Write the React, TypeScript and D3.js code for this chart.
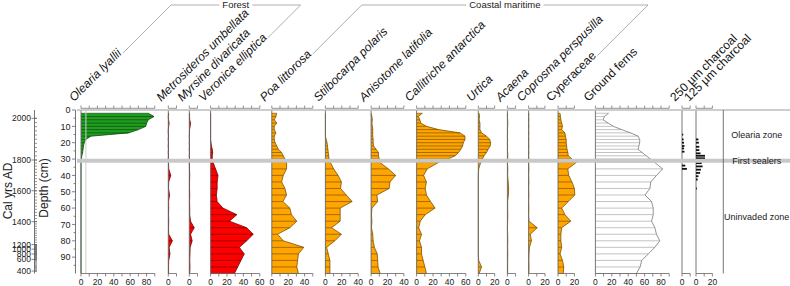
import React from 'react';
import * as d3 from 'd3';

// ---------------- data ----------------
const sampleDepths = [2, 4, 6, 8, 10, 12, 14, 16, 18, 20, 22, 24, 26, 28, 30, 32, 36, 40, 44, 48, 52, 56, 60, 64, 68, 72, 76, 80, 84, 88, 92, 96, 100];

const oleariaLyallii = [82, 89, 82, 80, 79, 70, 58, 12, 6, 4, 3, 2.5, 2, 1, 0.5, 0, 0, 0, 0, 0, 0, 0, 0, 0, 0, 0, 0, 0, 0, 0, 0, 0, 0];
const metrosiderosUmbellata = [0.5, 0, 0.3, 1, 0.5, 0, 0, 0.3, 0, 0.3, 0, 0.3, 0, 0.3, 0, 0.3, 0.5, 3, 0.5, 0.3, 1.5, 0.3, 0.5, 0.3, 0.5, 0.3, 0.5, 5, 1, 2, 0.5, 0.3, 0.3];
const myrsineDivaricata = [0.3, 0.3, 0.5, 1.5, 1, 0.3, 0.3, 0, 0.3, 0, 0.3, 0, 0.3, 0, 0.3, 0, 0.3, 0.5, 0.3, 0.3, 0.5, 0.3, 0.5, 0.5, 1.5, 6, 1.5, 3.5, 1, 0.8, 0.5, 0.8, 0.5];
const veronicaElliptica = [0, 0, 0, 0, 0, 0, 0, 0, 0, 0.5, 1, 2, 2.5, 2, 2, 3, 6, 9, 8, 8, 7, 8, 15, 32, 23, 44, 52, 44, 35, 41, 37, 33, 29];
const poaLittorosa = [6, 5, 3, 6, 3, 3, 5, 3, 3, 4, 6, 8, 12, 14, 16, 18, 18, 14, 12, 16, 18, 13.5, 22, 24, 30.5, 22, 7, 14, 39, 32.5, 31.5, 30.5, 32.5];
const stilbocarpaPolaris = [0, 0, 0, 0, 0, 0, 0, 0, 1, 2, 2.5, 3, 3.5, 4, 4.5, 6, 10, 15.5, 19.5, 18.5, 25.5, 32.5, 18, 18, 18, 7.5, 19.5, 11.5, 1.5, 3.5, 5.5, 5.5, 5.5];
const anisotomeLatifolia = [0, 1, 1.5, 1, 1.5, 2, 2, 2, 2.5, 2.5, 3, 6, 9, 9, 10, 10.5, 21, 30, 23, 22, 7, 8, 1, 0.5, 1, 0.5, 2, 2.5, 4, 7.5, 8, 8.5, 11];
const callitricheAntarctica = [7, 2, 4, 5, 12, 27, 53, 59, 59, 57, 56, 54, 51, 47, 38, 27, 13, 8.5, 12, 10.5, 12, 17, 22.5, 10.5, 4.5, 2.5, 6, 3.5, 6, 6, 8, 10, 12];
const urtica = [1, 1.5, 1, 2, 2, 2, 4, 10, 14, 15, 14.5, 12, 10, 7, 5, 3, 0.5, 0, 0, 0, 0, 0, 0, 0, 0, 0, 0, 0, 0, 0, 0.5, 4, 1];
const acaena = [0.3, 0, 0.3, 0.5, 0.3, 0, 0.3, 0, 0.3, 0, 0.3, 0, 0.3, 0.5, 0.3, 0, 0.5, 0.3, 1, 1.5, 1.2, 0.3, 0.3, 0.5, 0.3, 0, 0.3, 0.5, 0.3, 0.5, 0.3, 0.3, 0.3];
const coprosmaPerspusilla = [0.3, 0, 0.3, 0, 0.3, 0, 0.3, 0, 0.3, 0, 0.3, 0, 0.3, 0, 0.3, 0, 0.3, 0, 0.3, 0, 0.3, 0, 0.3, 0, 0.5, 10.5, 2, 3.5, 1, 0.5, 0.3, 0.5, 0.3];
const cyperaceae = [2.5, 3, 3.5, 4.5, 5.5, 4.5, 8.5, 9, 10, 10, 10.5, 11, 12, 12.5, 17, 22.5, 12, 13, 17, 20, 20.5, 12.5, 4.5, 8.5, 15.5, 4.5, 3.5, 3.5, 4.5, 2.5, 5.5, 7, 6.5];
const groundFerns = [16, 11, 9.5, 15.5, 22, 32, 43, 52, 54, 54, 53, 52, 57, 62, 67, 72, 82, 74.5, 67.5, 66.5, 60.5, 68.5, 70.5, 70.5, 68.5, 72.5, 74.5, 78.5, 72.5, 64.5, 56.5, 54.5, 50];

const taxaNames = ['Olearia lyallii', 'Metrosideros umbellata', 'Myrsine divaricata', 'Veronica elliptica', 'Poa littorosa', 'Stilbocarpa polaris', 'Anisotome latifolia', 'Callitriche antarctica', 'Urtica', 'Acaena', 'Coprosma perspusilla', 'Cyperaceae', 'Ground ferns'];
const taxaValues = [oleariaLyallii, metrosiderosUmbellata, myrsineDivaricata, veronicaElliptica, poaLittorosa, stilbocarpaPolaris, anisotomeLatifolia, callitricheAntarctica, urtica, acaena, coprosmaPerspusilla, cyperaceae, groundFerns];
const taxaMax = [90, 10, 10, 60, 50, 40, 40, 60, 20, 10, 20, 20, 90];
const taxaItalic = [true, true, true, true, true, true, true, true, true, true, true, false, false];

const charcoal250Depths = [15, 18, 20, 22, 23.5, 25.5, 34, 36];
const charcoal250Values = [1.5, 2, 2.5, 3, 2.5, 3, 4, 6];
const charcoal125Depths = [18, 20, 22.5, 24.5, 26.5, 28, 29.5, 31, 32.5, 34.5, 36.5, 38.5, 40.5, 42.5, 48];
const charcoal125Values = [3, 3.5, 4, 4, 5.5, 11, 11, 9, 7, 8, 6, 5, 3, 2, 1];
const charcoalNames = ['250 µm charcoal', '125 µm charcoal'];
const charcoalMax = [10, 20];

const groupNames = ['Forest', 'Coastal maritime'];
const groupFirst = [0, 4];
const groupLast = [3, 11];

const zoneNames = ['Olearia zone', 'Uninvaded zone'];
const zoneTop = [0, 31];
const zoneBottom = [31, 100];
const eventName = 'First sealers';
const eventDepth = 31;

const ageModelAges = [2012, 2000, 1800, 1600, 1400, 1200, 1000, 800, 600, 400, 350];
const ageModelDepths = [0, 5.1, 30.6, 49.4, 68.3, 82.3, 85.1, 88.1, 91.4, 98.5, 100];
const ageMinorStep = 20;
const ageMajorStep = 200;
const oleariaGuide = 6;

// ---------------- layout ----------------
const W = 790;
const H = 286;
const K = 0.82; // px per percent
const FONT = '"Liberation Sans", Arial, Helvetica, sans-serif';
const panelLeft = [81, 168.3, 189.3, 210.6, 271.8, 325.4, 371.1, 416.6, 478.3, 507.4, 528.6, 558, 595.4, 682, 696];
const TOP_Y = 108.3;
const BOT_Y = 273.5;
const LABEL_Y = 102;
const HEADER_Y = 5;
const ZONE_X = 723.3;

const depth = d3.scaleLinear().domain([0, 100]).range([110, BOT_Y]);
const ageToDepth = d3.scaleLinear().domain(ageModelAges).range(ageModelDepths);

const styles: Record<string, { fill: string; stroke: string; line: string }> = {
  green: { fill: '#1f9e1f', stroke: '#0d4a0d', line: '#0b3a0b' },
  red: { fill: '#ff0000', stroke: '#7a0000', line: '#5c0000' },
  orange: { fill: '#ffa500', stroke: '#7f5200', line: '#6b4500' },
  outline: { fill: '#ffffff', stroke: '#777777', line: '#9a9a9a' },
};
const taxaStyle = ['green', 'red', 'red', 'red', 'orange', 'orange', 'orange', 'orange', 'orange', 'orange', 'orange', 'orange', 'outline'];

let ctx: CanvasRenderingContext2D | null = null;
function textWidth(t: string, font: string) {
  if (!ctx && typeof document !== 'undefined') ctx = document.createElement('canvas').getContext('2d');
  if (!ctx) return t.length * 6;
  ctx.font = font;
  return ctx.measureText(t).width;
}

const LABEL_SIZE = 12;
const C = Math.SQRT1_2;

function labelStart(i: number) {
  return [panelLeft[i] - 7, LABEL_Y];
}

function BottomAxis({ x, max }: { x: d3.ScaleLinear<number, number>; max: number }) {
  const ticks = d3.range(0, max + 0.001, 10);
  return (
    <g>
      <line x1={x(0)} x2={x(max)} y1={BOT_Y} y2={BOT_Y} stroke="#666" strokeWidth={0.8} />
      {ticks.map((t) => (
        <line key={t} x1={x(t)} x2={x(t)} y1={BOT_Y} y2={BOT_Y + 3} stroke="#666" strokeWidth={0.8} />
      ))}
      {ticks
        .filter((t) => t % 20 === 0)
        .map((t) => (
          <text key={'l' + t} x={x(t)} y={BOT_Y + 11.5} fontSize={8.5} textAnchor="middle" fill="#222">
            {t}
          </text>
        ))}
    </g>
  );
}

function TopAxis({ x, max }: { x: d3.ScaleLinear<number, number>; max: number }) {
  const ticks = d3.range(0, max + 0.001, 10);
  return (
    <g>
      <line x1={x(0)} x2={x(max)} y1={TOP_Y} y2={TOP_Y} stroke="#777" strokeWidth={0.8} />
      {ticks.map((t) => (
        <line key={t} x1={x(t)} x2={x(t)} y1={TOP_Y} y2={TOP_Y - 2.8} stroke="#777" strokeWidth={0.8} />
      ))}
    </g>
  );
}

export default function App() {
  const labelFont = (italic: boolean) => `${italic ? 'italic ' : ''}${LABEL_SIZE}px ${FONT}`;

  const allNames = [...taxaNames, ...charcoalNames];
  const allItalic = [...taxaItalic, false, false];

  const labelEnd = (i: number) => {
    const [sx, sy] = labelStart(i);
    const w = textWidth(allNames[i], labelFont(allItalic[i]));
    return [sx + (w + 1) * C, sy - (w + 1) * C];
  };

  const panels = taxaNames.map((name, i) => {
    const max = taxaMax[i];
    const x = d3.scaleLinear().domain([0, max]).range([panelLeft[i], panelLeft[i] + max * K]);
    const vals = taxaValues[i];
    const st = styles[taxaStyle[i]];
    const area = d3
      .area<number>()
      .x0(x(0))
      .x1((v) => x(v))
      .y((_, j) => depth(sampleDepths[j]));
    return (
      <g key={name}>
        <path d={area(vals) || ''} fill={st.fill} stroke="none" />
        {vals.map((v, j) =>
          v > 0 ? (
            <line key={j} x1={x(0)} x2={x(v)} y1={depth(sampleDepths[j])} y2={depth(sampleDepths[j])} stroke={st.line} strokeWidth={0.6} />
          ) : null
        )}
        <path
          d={
            d3
              .line<number>()
              .x((v) => x(v))
              .y((_, j) => depth(sampleDepths[j]))(vals) || ''
          }
          fill="none"
          stroke={st.stroke}
          strokeWidth={0.8}
        />
        {i === 0 && (
          <line x1={x(oleariaGuide)} x2={x(oleariaGuide)} y1={depth(0)} y2={BOT_Y} stroke="#cfcfcf" strokeWidth={1} />
        )}
        <line x1={x(0)} x2={x(0)} y1={depth(0)} y2={BOT_Y} stroke="#666" strokeWidth={0.9} />
        <TopAxis x={x} max={max} />
        <BottomAxis x={x} max={max} />
      </g>
    );
  });

  const charcoal = charcoalNames.map((name, k) => {
    const i = taxaNames.length + k;
    const max = charcoalMax[k];
    const x = d3.scaleLinear().domain([0, max]).range([panelLeft[i], panelLeft[i] + max * K]);
    const ds = k === 0 ? charcoal250Depths : charcoal125Depths;
    const vs = k === 0 ? charcoal250Values : charcoal125Values;
    return (
      <g key={name}>
        <line x1={x(0)} x2={x(0)} y1={depth(0)} y2={BOT_Y} stroke="#666" strokeWidth={0.9} />
        {ds.map((d, j) => (
          <line key={j} x1={x(0)} x2={x(vs[j])} y1={depth(d)} y2={depth(d)} stroke="#111" strokeWidth={1.8} />
        ))}
        <TopAxis x={x} max={max} />
        <BottomAxis x={x} max={max} />
      </g>
    );
  });

  const labels = allNames.map((name, i) => {
    const [sx, sy] = labelStart(i);
    return (
      <text
        key={name}
        x={sx}
        y={sy}
        transform={`rotate(-45 ${sx} ${sy})`}
        fontSize={LABEL_SIZE}
        fontStyle={allItalic[i] ? 'italic' : 'normal'}
        fill="#111"
      >
        {name}
      </text>
    );
  });

  const headerFont = `9.5px ${FONT}`;
  const headers = groupNames.map((g, k) => {
    const [lx, ly] = labelEnd(groupFirst[k]);
    const [rx, ry] = labelEnd(groupLast[k]);
    const lc = lx + (ly - HEADER_Y);
    const rc = rx + (ry - HEADER_Y);
    const mid = (lc + rc) / 2;
    const tw = textWidth(g, headerFont);
    return (
      <g key={g} stroke="#9a9a9a" strokeWidth={0.8} fill="none">
        <line x1={lx} y1={ly} x2={lc} y2={HEADER_Y} />
        <line x1={lc} y1={HEADER_Y} x2={mid - tw / 2 - 3} y2={HEADER_Y} />
        <line x1={mid + tw / 2 + 3} y1={HEADER_Y} x2={rc} y2={HEADER_Y} />
        <line x1={rc} y1={HEADER_Y} x2={rx} y2={ry} />
        <text x={mid} y={HEADER_Y + 3.4} fontSize={9.5} textAnchor="middle" fill="#222" stroke="none">
          {g}
        </text>
      </g>
    );
  });

  // depth axis
  const depthMajor = d3.range(0, 91, 10);
  const depthMinor = d3.range(5, 96, 10);
  const DAX = 75.5;
  const depthAxis = (
    <g>
      <line x1={DAX} x2={DAX} y1={depth(0)} y2={BOT_Y} stroke="#666" strokeWidth={0.9} />
      {depthMajor.map((d) => (
        <g key={d}>
          <line x1={DAX - 3.5} x2={DAX} y1={depth(d)} y2={depth(d)} stroke="#666" strokeWidth={0.8} />
          <text x={DAX - 5} y={depth(d)} dy="0.35em" fontSize={9} textAnchor="end" fill="#222">
            {d}
          </text>
        </g>
      ))}
      {depthMinor.map((d) => (
        <line key={'m' + d} x1={DAX - 2} x2={DAX} y1={depth(d)} y2={depth(d)} stroke="#666" strokeWidth={0.8} />
      ))}
      <text x={48} y={188} transform="rotate(-90 48 188)" fontSize={12} textAnchor="middle" fill="#222">
        Depth (cm)
      </text>
    </g>
  );

  // age axis
  const AAX = 34.5;
  const ageMinor = d3.range(400, 2001, ageMinorStep);
  const ageMajor = d3.range(400, 2001, ageMajorStep);
  const ageAxis = (
    <g>
      <line x1={AAX} x2={AAX} y1={depth(0)} y2={BOT_Y} stroke="#666" strokeWidth={0.9} />
      {ageMinor.map((a) => (
        <line key={a} x1={AAX} x2={AAX + 2.5} y1={depth(ageToDepth(a))} y2={depth(ageToDepth(a))} stroke="#666" strokeWidth={0.7} />
      ))}
      {ageMajor.map((a) => (
        <g key={'M' + a}>
          <line x1={AAX - 3} x2={AAX + 2.5} y1={depth(ageToDepth(a))} y2={depth(ageToDepth(a))} stroke="#666" strokeWidth={0.8} />
          <text x={AAX - 3.5} y={depth(ageToDepth(a))} dy="0.35em" fontSize={8.5} textAnchor="end" fill="#222">
            {a}
          </text>
        </g>
      ))}
      <text x={12} y={191} transform="rotate(-90 12 191)" fontSize={12} textAnchor="middle" fill="#222">
        Cal yrs AD
      </text>
    </g>
  );

  const zoneCx = (ZONE_X + W) / 2;
  const zones = (
    <g>
      <line x1={ZONE_X} x2={ZONE_X} y1={depth(0)} y2={BOT_Y} stroke="#666" strokeWidth={0.9} />
      {zoneNames.map((z, k) => (
        <text key={z} x={zoneCx} y={depth((zoneTop[k] + zoneBottom[k]) / 2)} dy="0.35em" fontSize={9} textAnchor="middle" fill="#222">
          {z}
        </text>
      ))}
      <text x={zoneCx} y={depth(eventDepth)} dy="0.35em" fontSize={9} textAnchor="middle" fill="#222">
        {eventName}
      </text>
    </g>
  );

  return (
    <svg
      width={W}
      height={H}
      viewBox={`0 0 ${W} ${H}`}
      style={{ position: 'absolute', left: 0, top: 0, background: '#fff', display: 'block' }}
      fontFamily={FONT}
    >
      <rect x={0} y={0} width={W} height={H} fill="#fff" />
      {ageAxis}
      {depthAxis}
      {panels}
      {charcoal}
      <line x1={77} x2={W} y1={depth(0)} y2={depth(0)} stroke="#bdbdbd" strokeWidth={1.5} />
      <line x1={77} x2={W} y1={depth(eventDepth)} y2={depth(eventDepth)} stroke="#c8c8c8" strokeWidth={4} />
      {zones}
      {labels}
      {headers}
    </svg>
  );
}
